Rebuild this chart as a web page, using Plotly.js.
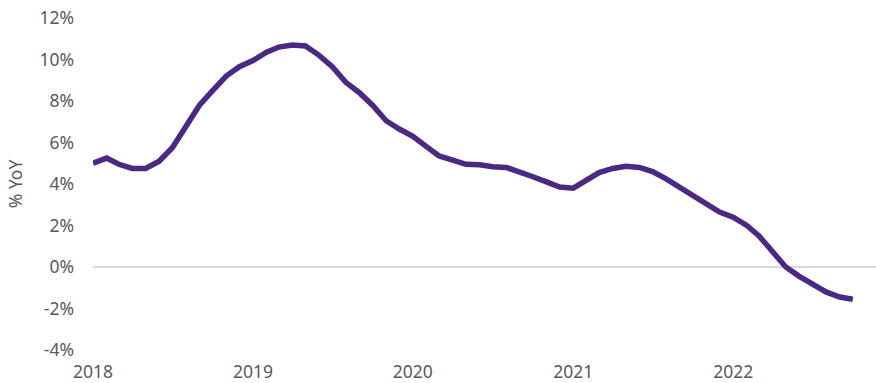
<!DOCTYPE html>
<html>
<head>
<meta charset="utf-8">
<script src="https://cdn.plot.ly/plotly-3.0.1.min.js"></script>
<style>html,body{margin:0;padding:0;background:#fff;}#chart{width:876px;height:383px;}</style>
</head>
<body>
<div id="chart"></div>
<script>
// Monthly dates, Jan 2018 - Oct 2022
const months = [
  '2018-01-01','2018-02-01','2018-03-01','2018-04-01','2018-05-01','2018-06-01','2018-07-01','2018-08-01','2018-09-01','2018-10-01','2018-11-01','2018-12-01',
  '2019-01-01','2019-02-01','2019-03-01','2019-04-01','2019-05-01','2019-06-01','2019-07-01','2019-08-01','2019-09-01','2019-10-01','2019-11-01','2019-12-01',
  '2020-01-01','2020-02-01','2020-03-01','2020-04-01','2020-05-01','2020-06-01','2020-07-01','2020-08-01','2020-09-01','2020-10-01','2020-11-01','2020-12-01',
  '2021-01-01','2021-02-01','2021-03-01','2021-04-01','2021-05-01','2021-06-01','2021-07-01','2021-08-01','2021-09-01','2021-10-01','2021-11-01','2021-12-01',
  '2022-01-01','2022-02-01','2022-03-01','2022-04-01','2022-05-01','2022-06-01','2022-07-01','2022-08-01','2022-09-01','2022-10-01'
];
// % year-over-year values
const yoy = [
  5.0, 5.25, 4.95, 4.75, 4.75, 5.1, 5.75, 6.75, 7.8, 8.5, 9.2, 9.65,
  9.95, 10.35, 10.6, 10.7, 10.65, 10.2, 9.65, 8.9, 8.4, 7.8, 7.05, 6.65,
  6.3, 5.8, 5.35, 5.15, 4.95, 4.93, 4.83, 4.8, 4.6, 4.35, 4.1, 3.85,
  3.8, 4.2, 4.55, 4.75, 4.85, 4.8, 4.6, 4.25, 3.85, 3.45, 3.05, 2.65,
  2.4, 2.0, 1.5, 0.75, 0.0, -0.45, -0.8, -1.2, -1.45, -1.55
];
const yTickVals = [-4, -2, 0, 2, 4, 6, 8, 10, 12];
const yTickText = ['-4%', '-2%', '0%', '2%', '4%', '6%', '8%', '10%', '12%'];
const xTickVals = ['2018-01-01', '2019-01-01', '2020-01-01', '2021-01-01', '2022-01-01'];
const xTickText = ['2018', '2019', '2020', '2021', '2022'];

const font = {family: 'Noto Sans, Open Sans, sans-serif', size: 17.5, color: '#595959'};

Plotly.newPlot('chart', [{
  x: months,
  y: yoy,
  type: 'scatter',
  mode: 'lines',
  line: {color: '#4b2884', width: 5.5, shape: 'linear'},
  hoverinfo: 'skip'
}], {
  width: 876,
  height: 383,
  margin: {l: 93, r: 0, t: 18, b: 33, pad: 0},
  paper_bgcolor: '#ffffff',
  plot_bgcolor: '#ffffff',
  showlegend: false,
  font: font,
  xaxis: {
    type: 'date',
    range: ['2018-01-01', '2022-11-23'],
    tickmode: 'array',
    tickvals: xTickVals,
    ticktext: xTickText,
    showgrid: false,
    zeroline: false,
    showline: false,
    ticks: '',
    tickfont: font,
    ticklabelstandoff: 9
  },
  yaxis: {
    range: [-4, 12],
    tickmode: 'array',
    tickvals: yTickVals,
    ticktext: yTickText,
    showgrid: false,
    zeroline: true,
    zerolinecolor: '#d9d9d9',
    zerolinewidth: 2,
    showline: false,
    ticks: '',
    tickfont: font,
    ticklabelstandoff: 18,
    title: {text: '% YoY', font: font, standoff: 12}
  }
}, {displayModeBar: false, staticPlot: true});
</script>
</body>
</html>
